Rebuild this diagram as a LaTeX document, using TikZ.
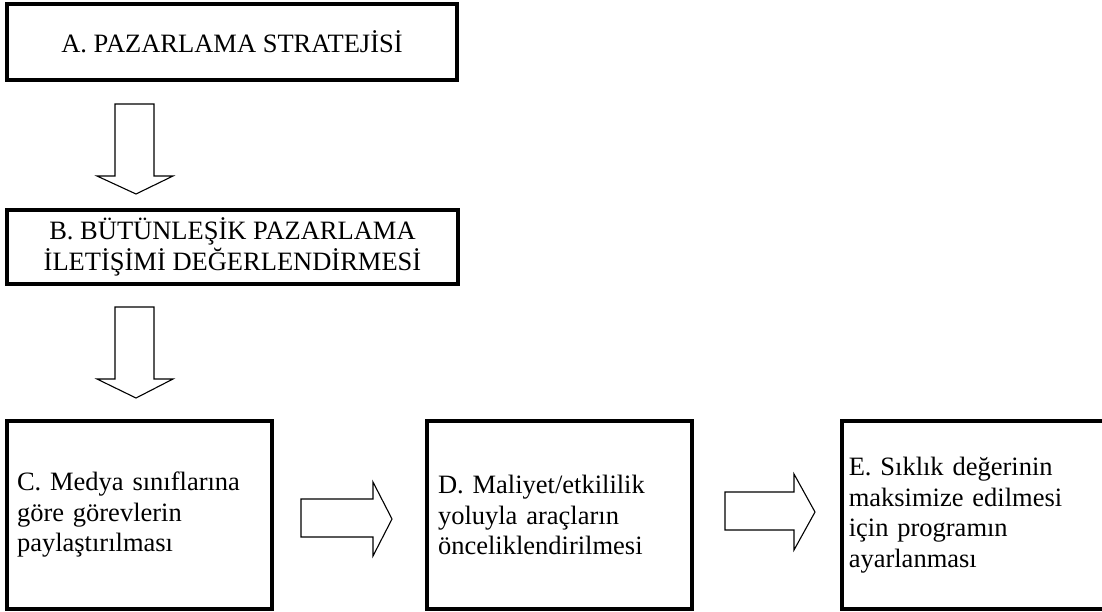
\documentclass[tikz,border=0pt]{standalone}
\usepackage{fontspec}
\setmainfont{Liberation Serif}
\begin{document}
\begin{tikzpicture}[x=1pt,y=-1pt,
  box/.style={draw=black, line width=3.5pt, rectangle, inner sep=0pt,
    font=\fontsize{26.5}{30.5}\selectfont},
  topbox/.style={box, align=center},
  stepbox/.style={box, align=left, minimum height=188pt},
  barrow/.style={draw=black, line width=1.1pt, fill=white, line join=miter}]
  \useasboundingbox (0,0) rectangle (1102,611);

  % process boxes
  \node[topbox, minimum width=450pt, minimum height=76pt] (A) at (232,42)
    {A. PAZARLAMA STRATEJİSİ};
  \node[topbox, minimum width=451pt, minimum height=74pt] (B) at (232.5,247)
    {B. BÜTÜNLEŞİK PAZARLAMA\\İLETİŞİMİ DEĞERLENDİRMESİ};
  \node[stepbox, text width=245pt, inner xsep=10pt] (C) at (139.5,515)
    {C. Medya sınıflarına\\göre görevlerin\\paylaştırılması};
  \node[stepbox, text width=243pt, inner xsep=11pt] (D) at (559.5,515)
    {D. Maliyet/etkililik\\yoluyla araçların\\önceliklendirilmesi};
  % the last box runs past the right edge of the page
  \node[stepbox, text width=265pt, inner xsep=7pt, anchor=west] (E) at (840,515)
    {E. Sıklık değerinin\\maksimize edilmesi\\için programın\\ayarlanması};

  % block arrows between the boxes
  \draw[barrow] (115,104) -- (154,104) -- (154,176) -- (173,176) -- (136,194)
    -- (97,176) -- (115,176) -- cycle;
  \draw[barrow] (115,307) -- (154,307) -- (154,379) -- (173,379) -- (136,398)
    -- (97,379) -- (115,379) -- cycle;
  \draw[barrow] (301,499) -- (373,499) -- (373,482) -- (392,519) -- (373,556)
    -- (373,537) -- (301,537) -- cycle;
  \draw[barrow] (725,492) -- (794,492) -- (794,474) -- (815,512) -- (794,550)
    -- (794,530) -- (725,530) -- cycle;
\end{tikzpicture}
\end{document}
